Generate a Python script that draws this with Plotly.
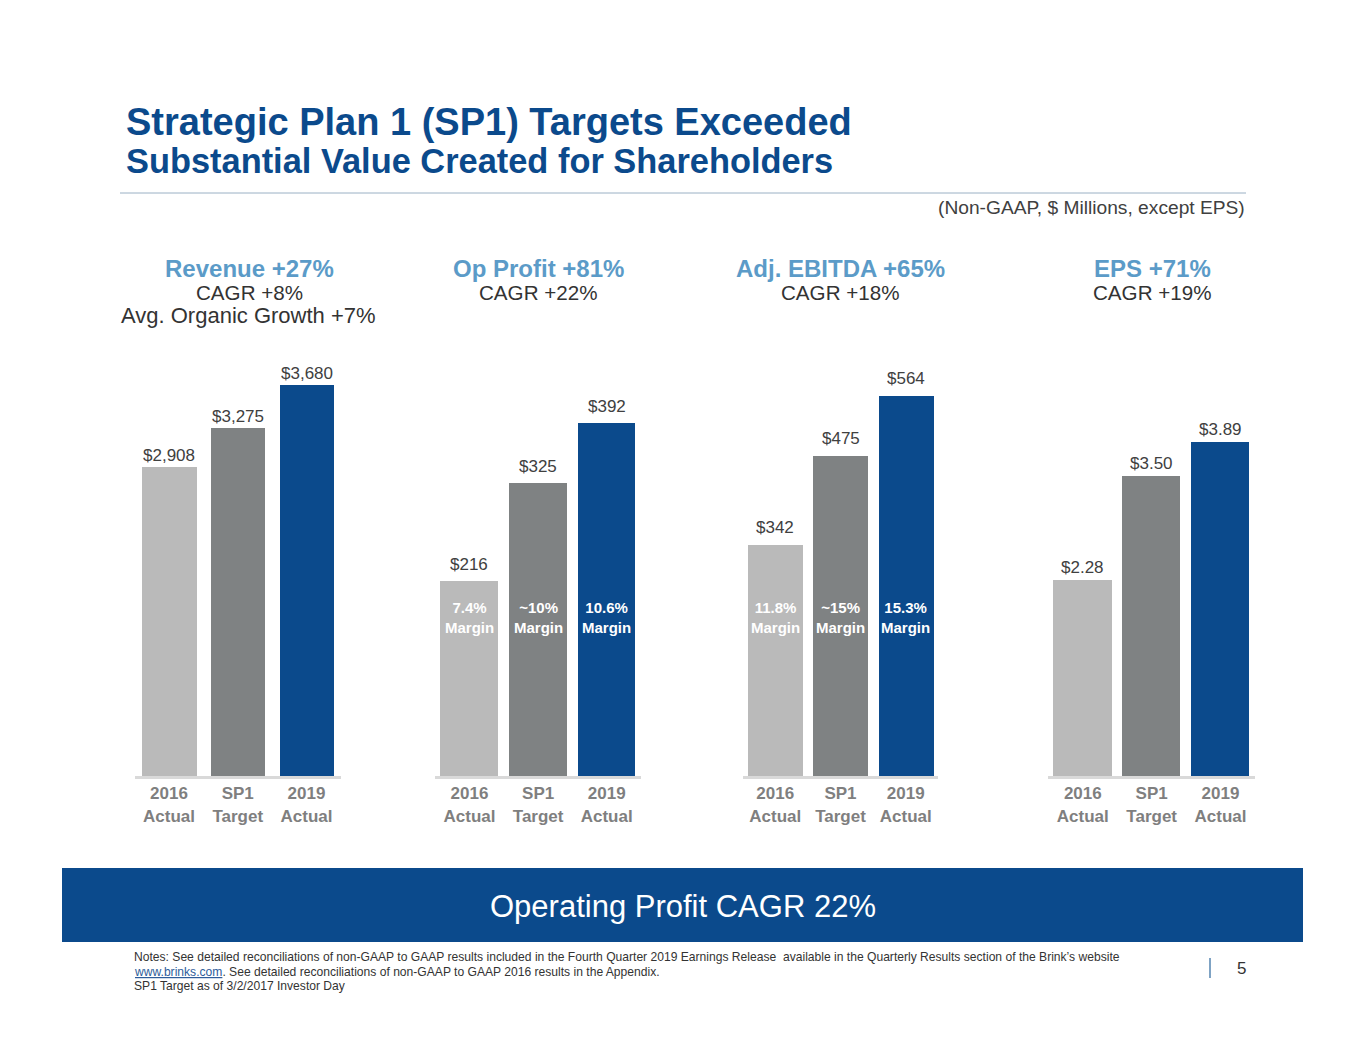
import plotly.graph_objects as go

W, H = 1365, 1055
FONT = "Liberation Sans"
OFF = 8  # page body margin in the browser

# ---------------- data ----------------
categories = ["2016 Actual", "SP1 Target", "2019 Actual"]
tick_labels = ["2016<br>Actual", "SP1<br>Target", "2019<br>Actual"]

revenue = [2908, 3275, 3680]
op_profit = [216, 325, 392]
adj_ebitda = [342, 475, 564]
eps = [2.28, 3.50, 3.89]

revenue_labels = ["$2,908", "$3,275", "$3,680"]
op_profit_labels = ["$216", "$325", "$392"]
ebitda_labels = ["$342", "$475", "$564"]
eps_labels = ["$2.28", "$3.50", "$3.89"]

op_margins = ["7.4%", "~10%", "10.6%"]
ebitda_margins = ["11.8%", "~15%", "15.3%"]

headings = ["Revenue +27%", "Op Profit +81%", "Adj. EBITDA +65%", "EPS +71%"]
cagr_lines = ["CAGR +8%", "CAGR +22%", "CAGR +18%", "CAGR +19%"]
extra_line = "Avg. Organic Growth +7%"

title = "Strategic Plan 1 (SP1) Targets Exceeded"
subtitle = "Substantial Value Created for Shareholders"
unit_note = "(Non-GAAP, $ Millions, except EPS)"
banner = "Operating Profit CAGR 22%"
notes_1 = ("Notes: See detailed reconciliations of non-GAAP to GAAP results included in the Fourth Quarter 2019 "
           "Earnings Release  available in the Quarterly Results section of the Brink\u2019s website")
notes_2 = "See detailed reconciliations of non-GAAP to GAAP 2016 results in the Appendix."
notes_link = "www.brinks.com"
notes_3 = "SP1 Target as of 3/2/2017 Investor Day"
page_no = "5"

# ---------------- style ----------------
BAR_COLORS = ["#BABABA", "#7F8283", "#0B4A8C"]
TITLE_BLUE = "#0B4A8C"
HEAD_BLUE = "#5B9BC8"
TXT = "#404040"


def px(x):
    return (x - OFF) / W


def py(y):
    return 1 - (y - OFF) / H


Y_BOTTOM, Y_TOP = 776, 350
panels = [
    dict(vals=revenue, labels=revenue_labels, dom=(134.6, 340.9), ppu=0.1062, width=0.79, shift=0, margins=None),
    dict(vals=op_profit, labels=op_profit_labels, dom=(435.2, 641.0), ppu=0.901, width=0.845, shift=5, margins=op_margins),
    dict(vals=adj_ebitda, labels=ebitda_labels, dom=(742.6, 938.4), ppu=0.674, width=0.845, shift=6, margins=ebitda_margins),
    dict(vals=eps, labels=eps_labels, dom=(1048.4, 1254.9), ppu=85.75, width=0.845, shift=1, margins=None),
]

fig = go.Figure()
annotations = []
layout_axes = {}

for i, p in enumerate(panels, start=1):
    sx = "" if i == 1 else str(i)
    fig.add_trace(go.Bar(
        x=categories, y=p["vals"], width=p["width"],
        marker=dict(color=BAR_COLORS, line=dict(width=0)),
        xaxis="x" + sx, yaxis="y" + sx, hoverinfo="skip",
    ))
    ymax = (Y_BOTTOM - Y_TOP) / p["ppu"]
    layout_axes["xaxis" + sx] = dict(
        domain=[px(p["dom"][0]), px(p["dom"][1])], anchor="y" + sx,
        type="category", categoryorder="array", categoryarray=categories,
        range=[-0.5, 2.5], tickvals=categories, ticktext=tick_labels,
        tickfont=dict(family=FONT, size=17, color="#7F7F7F", weight="bold"),
        ticks="", showline=True, linecolor="#D9D9D9", linewidth=3,
        showgrid=False, zeroline=False, fixedrange=True,
    )
    layout_axes["yaxis" + sx] = dict(
        domain=[py(Y_BOTTOM), py(Y_TOP)], anchor="x" + sx,
        range=[0, ymax], visible=False, fixedrange=True,
    )
    for c, v, lab in zip(categories, p["vals"], p["labels"]):
        annotations.append(dict(
            x=c, y=v, xref="x" + sx, yref="y" + sx, text=lab, showarrow=False,
            yanchor="bottom", yshift=p["shift"],
            font=dict(family=FONT, size=17, color=TXT),
        ))
    if p["margins"]:
        for c, m in zip(categories, p["margins"]):
            annotations.append(dict(
                x=c, y=py(617), xref="x" + sx, yref="paper",
                text=f"{m}<br>Margin", showarrow=False, yanchor="middle",
                font=dict(family=FONT, size=15, color="white", weight="bold"),
            ))

# panel headings
head_x = [249, 538, 840, 1152]
for hx, hd, cg in zip(head_x, headings, cagr_lines):
    annotations.append(dict(x=px(hx), y=py(268), xref="paper", yref="paper", text=hd,
                            showarrow=False, xanchor="center", yanchor="middle",
                            font=dict(family=FONT, size=24, color=HEAD_BLUE, weight="bold")))
    annotations.append(dict(x=px(hx), y=py(292), xref="paper", yref="paper", text=cg,
                            showarrow=False, xanchor="center", yanchor="middle",
                            font=dict(family=FONT, size=20.6, color="#333333")))
annotations.append(dict(x=px(248), y=py(315), xref="paper", yref="paper", text=extra_line,
                        showarrow=False, xanchor="center", yanchor="middle",
                        font=dict(family=FONT, size=22, color="#333333")))

# titles
annotations += [
    dict(x=px(124), y=py(122), xref="paper", yref="paper", text=title, showarrow=False,
         xanchor="left", yanchor="middle",
         font=dict(family=FONT, size=38, color=TITLE_BLUE, weight="bold")),
    dict(x=px(124), y=py(161), xref="paper", yref="paper", text=subtitle, showarrow=False,
         xanchor="left", yanchor="middle",
         font=dict(family=FONT, size=34.4, color=TITLE_BLUE, weight="bold")),
    dict(x=px(1247), y=py(207), xref="paper", yref="paper", text=unit_note, showarrow=False,
         xanchor="right", yanchor="middle", font=dict(family=FONT, size=19.2, color=TXT)),
    dict(x=px(683), y=py(906), xref="paper", yref="paper", text=banner, showarrow=False,
         xanchor="center", yanchor="middle", font=dict(family=FONT, size=31, color="white")),
    dict(x=px(132), y=py(957), xref="paper", yref="paper", text=notes_1, showarrow=False,
         xanchor="left", yanchor="middle", font=dict(family=FONT, size=12.1, color="#333333")),
    dict(x=px(132), y=py(972), xref="paper", yref="paper",
         text=f"<span style='color:#2E5C9A'><u>{notes_link}</u></span>. {notes_2}", showarrow=False,
         xanchor="left", yanchor="middle", font=dict(family=FONT, size=12.1, color="#333333")),
    dict(x=px(132), y=py(986), xref="paper", yref="paper", text=notes_3, showarrow=False,
         xanchor="left", yanchor="middle", font=dict(family=FONT, size=12.1, color="#333333")),
    dict(x=px(1241), y=py(968), xref="paper", yref="paper", text=page_no, showarrow=False,
         xanchor="center", yanchor="middle", font=dict(family=FONT, size=17, color="#333333")),
]

shapes = [
    dict(type="line", xref="paper", yref="paper", x0=px(120), x1=px(1246), y0=py(193), y1=py(193),
         line=dict(color="#9AB0C4", width=1)),
    dict(type="rect", xref="paper", yref="paper", x0=px(62), x1=px(1303), y0=py(868), y1=py(942),
         fillcolor=TITLE_BLUE, line=dict(width=0), layer="below"),
    dict(type="line", xref="paper", yref="paper", x0=px(1210), x1=px(1210), y0=py(958), y1=py(978),
         line=dict(color="#7FA3C4", width=2)),
]

fig.update_layout(
    width=W, height=H, margin=dict(l=0, r=0, t=0, b=0),
    paper_bgcolor="white", plot_bgcolor="white", showlegend=False,
    bargap=0, annotations=annotations, shapes=shapes, **layout_axes,
)

fig.write_html("out.html")
